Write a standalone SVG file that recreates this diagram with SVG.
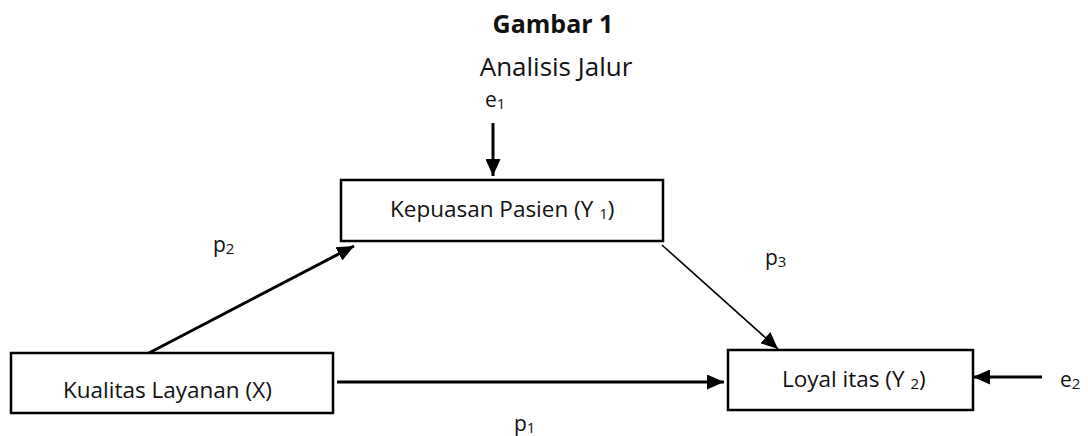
<svg xmlns="http://www.w3.org/2000/svg" width="1088" height="436" viewBox="0 0 1088 436">
<style>
text{font-family:"Open Sans",Lato,sans-serif;fill:#111;font-size:21px}
.n{font-size:22.5px}
.box{fill:#fff;stroke:#000;stroke-width:2.5}
.c{stroke:#000;stroke-width:3;fill:none}
.thin{stroke:#000;stroke-width:1.6;fill:none}
.sub{font-size:15px}
</style>
<defs>
<marker id="ah2" viewBox="0 0 17 15" refX="17" refY="7.5" markerWidth="17" markerHeight="15" markerUnits="userSpaceOnUse" orient="auto">
<path d="M0,0 L17,7.5 L0,15 Z" fill="#000"/>
</marker>
</defs>
<text x="553" y="33" text-anchor="middle" font-weight="bold" style="font-size:25px">Gambar 1</text>
<text x="556" y="76" text-anchor="middle" style="font-size:26px">Analisis Jalur</text>
<g id="connectors">
<line class="c" x1="493" y1="123" x2="493" y2="176" marker-end="url(#ah2)"/>
<line class="c" x1="147" y1="354" x2="354" y2="246" marker-end="url(#ah2)"/>
<line class="thin" x1="662" y1="245" x2="778" y2="349" marker-end="url(#ah2)"/>
<line class="c" x1="337" y1="382" x2="724" y2="382" marker-end="url(#ah2)"/>
<line class="c" x1="1042" y1="377" x2="973" y2="377" marker-end="url(#ah2)"/>
</g>
<g id="labels">
<text x="485" y="107">e<tspan class="sub" dy="2">1</tspan></text>
<text x="213" y="252">p<tspan class="sub" dy="2">2</tspan></text>
<text x="765" y="265">p<tspan class="sub" dy="2">3</tspan></text>
<text x="514" y="431">p<tspan class="sub" dy="2">1</tspan></text>
<text x="1060" y="387">e<tspan class="sub" dy="2">2</tspan></text>
</g>
<g id="kepuasan">
<rect class="box" x="341" y="180" width="322" height="61"/>
<text class="n" x="390" y="217">Kepuasan Pasien (Y <tspan class="sub" dy="2">1</tspan><tspan dy="-2">)</tspan></text>
</g>
<g id="kualitas">
<rect class="box" x="11" y="353" width="322" height="60"/>
<text class="n" x="63" y="398">Kualitas Layanan (X)</text>
</g>
<g id="loyalitas">
<rect class="box" x="728" y="350" width="245" height="60"/>
<text class="n" x="782" y="387">Loyal itas (Y <tspan class="sub" dy="2">2</tspan><tspan dy="-2">)</tspan></text>
</g>
</svg>
